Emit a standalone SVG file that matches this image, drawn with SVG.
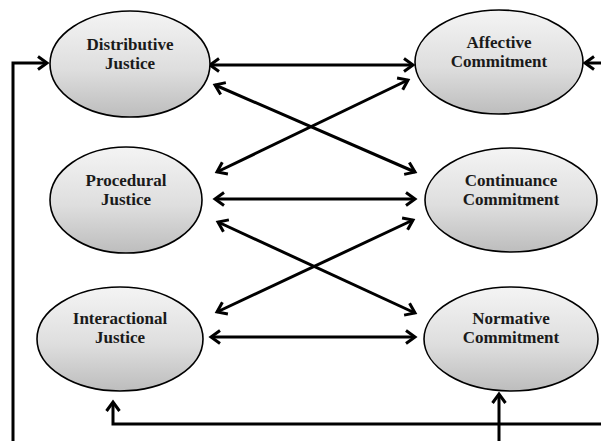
<svg xmlns="http://www.w3.org/2000/svg" width="601" height="441" viewBox="0 0 601 441">
  <defs>
    <linearGradient id="g" x1="0" y1="0" x2="0" y2="1">
      <stop offset="0" stop-color="#f4f4f4"/>
      <stop offset="0.55" stop-color="#dedede"/>
      <stop offset="1" stop-color="#bdbdbd"/>
    </linearGradient>
    <marker id="ah" viewBox="0 0 14 16" markerUnits="userSpaceOnUse" markerWidth="14" markerHeight="16" refX="11" refY="8" orient="auto-start-reverse">
      <path d="M2,1.5 L11,8 L2,14.5" fill="none" stroke="#000" stroke-width="3" stroke-linejoin="miter"/>
    </marker>
    <style>
      .node ellipse { fill: url(#g); stroke: #000; stroke-width: 1.6; }
      .node text { font-family: "Liberation Serif", "Times New Roman", serif; font-weight: bold; font-size: 17px; fill: #1a1a1a; text-anchor: middle; }
      .conn path { fill: none; stroke: #000; stroke-width: 3; }
      .both { marker-start: url(#ah); marker-end: url(#ah); }
      .end { marker-end: url(#ah); }
    </style>
  </defs>
  <rect width="601" height="441" fill="#fff"/>

  <g id="connectors" class="conn">
    <path class="both" d="M210,65 L413,65"/>
    <path class="both" d="M215,85 L415,172"/>
    <path class="both" d="M408,80 L217,172"/>
    <path class="both" d="M215,199 L415,199"/>
    <path class="both" d="M218,222 L415,313"/>
    <path class="both" d="M413,220 L217,312"/>
    <path class="both" d="M211,337 L415,337"/>
    <path class="end" d="M13,441 L13,63 L47,63"/>
    <path class="end" d="M601,63 L585,63"/>
    <path class="end" d="M601,424 L113,424 L113,402"/>
    <path class="end" d="M499,441 L499,394"/>
  </g>

  <g id="distributive" class="node">
    <ellipse cx="130" cy="64" rx="80" ry="53"/>
    <text x="130" y="50">Distributive</text>
    <text x="130" y="69">Justice</text>
  </g>
  <g id="affective" class="node">
    <ellipse cx="499" cy="62" rx="84" ry="52"/>
    <text x="499" y="48">Affective</text>
    <text x="499" y="67">Commitment</text>
  </g>
  <g id="procedural" class="node">
    <ellipse cx="126" cy="200" rx="76" ry="53"/>
    <text x="126" y="186">Procedural</text>
    <text x="126" y="205">Justice</text>
  </g>
  <g id="continuance" class="node">
    <ellipse cx="511" cy="200" rx="86" ry="52"/>
    <text x="511" y="186">Continuance</text>
    <text x="511" y="205">Commitment</text>
  </g>
  <g id="interactional" class="node">
    <ellipse cx="120" cy="339" rx="83" ry="52"/>
    <text x="120" y="324">Interactional</text>
    <text x="120" y="343">Justice</text>
  </g>
  <g id="normative" class="node">
    <ellipse cx="511" cy="339" rx="87" ry="52"/>
    <text x="511" y="324">Normative</text>
    <text x="511" y="343">Commitment</text>
  </g>
</svg>
